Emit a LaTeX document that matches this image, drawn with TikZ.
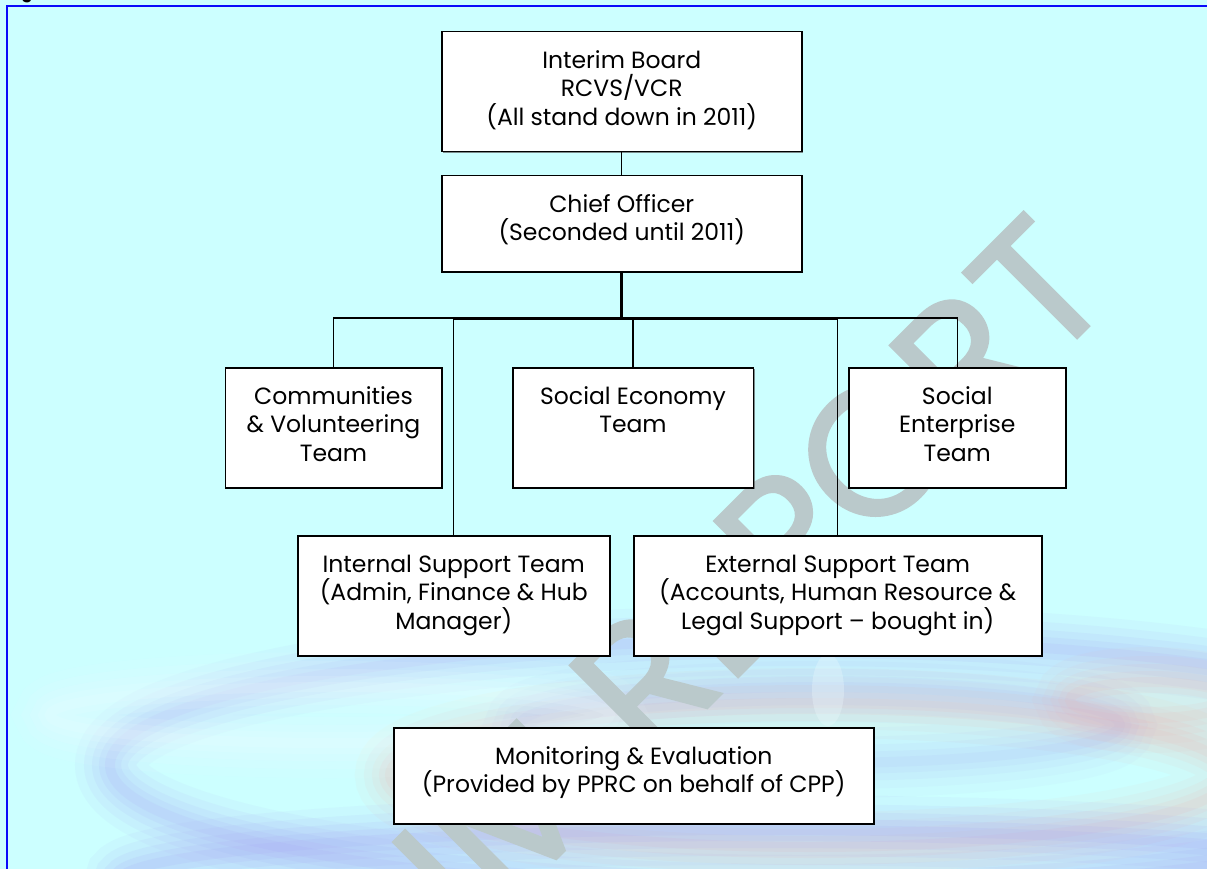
\documentclass[tikz,border=0pt]{standalone}
\usepackage{fontspec}
\setmainfont{Poppins}
\newfontfamily\wmfont{Poppins}[FakeBold=1.5]
\usetikzlibrary{calc,shadows}

\definecolor{paper}{RGB}{204,255,255}
\definecolor{frameblue}{RGB}{10,10,250}
\definecolor{wmgrey}{RGB}{186,201,203}
\definecolor{lav}{RGB}{168,168,246}
\definecolor{peach}{RGB}{246,172,168}
\definecolor{mist}{RGB}{240,252,255}

% text block of an org box: fixed size, lines hung from the top
\newcommand\boxlines[3]{%
  \parbox[t][#2][t]{#1}{\centering\fontsize{23.5}{28.5}\selectfont
    \rule{0pt}{36.5pt}#3}}

% soft elliptical band, built from stacked translucent strokes
\newcommand\softring[5]{% centre, rx, ry, colour, strength
  \foreach \w/\o in {70/0.05,52/0.06,36/0.07,22/0.08,10/0.09}
    \draw[line width=\w pt, draw=#4, opacity=#5*\o] #1 ellipse ({#2} and {#3});}

\tikzset{
  orgbox/.style={draw=black, line width=1.5pt, fill=white, inner sep=0pt,
    anchor=north west,
    drop shadow={shadow xshift=1.3pt, shadow yshift=-1.3pt,
      opacity=0.7, fill=black!65}},
  linkthin/.style={draw=black, line width=1.3pt},
  linkbold/.style={draw=black, line width=3pt},
  wmtext/.style={text=wmgrey, inner sep=0pt,
    font=\wmfont\fontsize{182}{182}\selectfont},
}

\begin{document}
\begin{tikzpicture}[x=1pt, y=-1pt]
\useasboundingbox (0,0) rectangle (1207,869);

% page background
\fill[paper] (0,0) rectangle (1207,869);

% water ripple in the lower part of the page
\softring{(800,765)}{690}{125}{lav}{1.5}
\softring{(810,775)}{420}{72}{peach}{1.2}
\softring{(760,880)}{640}{50}{lav}{1.6}
\softring{(820,725)}{300}{38}{lav}{1.0}
\softring{(330,715)}{280}{28}{mist}{1.6}
\softring{(1150,700)}{80}{18}{peach}{1.0}
\fill[mist, opacity=0.30] (828,690) ellipse (16 and 36);

% heading above the frame
\node[anchor=base west, inner sep=0pt, font=\fontsize{16}{16}\selectfont\bfseries]
  (heading) at (8,-1) {Figure};

% frame
\draw[frameblue, line width=2pt] (7,6) rectangle (1215,880);

% watermark
\node[wmtext, rotate=45, anchor=base east] (wmark) at (1118,297) {INTERIM REPORT};

% boxes
\node[orgbox] (board) at (441,31)
  {\boxlines{360pt}{120pt}{Interim Board\\RCVS/VCR\\(All stand down in 2011)}};
\node[orgbox] (chief) at (441,175)
  {\boxlines{360pt}{96pt}{Chief Officer\\(Seconded until 2011)}};
\node[orgbox] (comm) at (224.5,367)
  {\boxlines{216.5pt}{120pt}{Communities\\\& Volunteering\\Team}};
\node[orgbox] (econ) at (512,367)
  {\boxlines{240.5pt}{120pt}{Social Economy\\Team}};
\node[orgbox] (ent) at (848,367)
  {\boxlines{217pt}{120pt}{Social\\Enterprise\\Team}};
\node[orgbox] (int) at (297,535)
  {\boxlines{312pt}{120pt}{Internal Support Team\\(Admin, Finance \& Hub\\Manager)}};
\node[orgbox] (ext) at (633,535)
  {\boxlines{408pt}{120pt}{External Support Team\\(Accounts, Human Resource \&\\Legal Support -- bought in)}};
\node[orgbox] (mon) at (393,727)
  {\boxlines{480pt}{96pt}{Monitoring \& Evaluation\\(Provided by PPRC on behalf of CPP)}};

% connectors
\coordinate (bus) at (chief.south |- 0,318);
\draw[linkthin] (board.south) -- (chief.north);
\draw[linkthin] (comm.north) |- (bus);
\draw[linkthin] (ent.north) |- (bus);
\draw[linkthin] (econ.north) -- (econ.north |- bus);
\draw[linkthin] (int.north) -- (int.north |- bus);
\draw[linkthin] (ext.north) -- (ext.north |- bus);
\draw[linkbold] (chief.south) -- (bus);
\draw[linkbold] (int.north |- bus) -- (ext.north |- bus);
\end{tikzpicture}
\end{document}
